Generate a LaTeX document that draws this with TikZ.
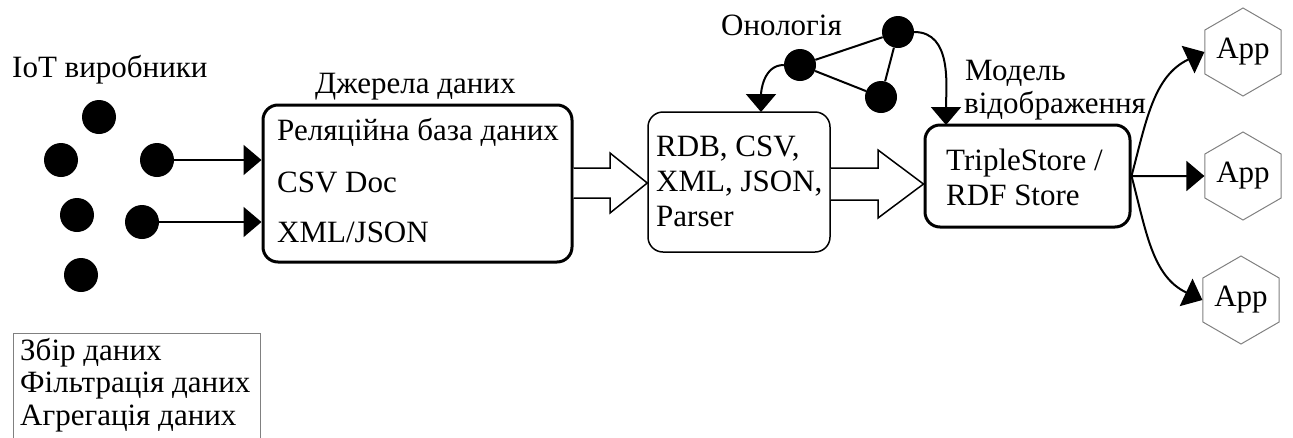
\documentclass[tikz,border=0pt]{standalone}
\usepackage{fontspec}
\setmainfont{Liberation Serif}
\usetikzlibrary{arrows.meta,calc,shapes.geometric}
\begin{document}
\begin{tikzpicture}[x=1pt,y=-1pt,
  font=\fontsize{31}{37}\selectfont,
  dot/.style={circle,fill=black,inner sep=0pt,minimum size=34pt},
  odot/.style={circle,fill=black,inner sep=0pt,minimum size=32pt},
  bigbox/.style={draw,line width=3pt,rounded corners=15pt,inner sep=0pt},
  thinbox/.style={draw,line width=1.5pt,rounded corners=15pt,inner sep=0pt},
  txt/.style={anchor=base west,inner sep=0pt},
  arr/.style={line width=2pt,-{Triangle[length=18pt,width=30pt]}},
  hollow/.style={draw,line width=1.5pt,fill=white,line join=miter},
  app/.style={draw=gray,line width=1pt,regular polygon,regular polygon sides=6,shape border rotate=30,minimum size=88pt,inner sep=0pt},
  gbox/.style={draw=gray,line width=1pt,inner sep=0pt}
]
\useasboundingbox (0,0) rectangle (1293,437);
% IoT producers
\node[txt] (iot) at (12,77) {IoT виробники};
\node[dot] (d1) at (99,117) {};
\node[dot] (d2) at (61,160) {};
\node[dot] (d3) at (157,160) {};
\node[dot] (d4) at (77,215) {};
\node[dot] (d5) at (142,222) {};
\node[dot] (d6) at (81,275) {};
% data sources
\node[bigbox,minimum width=309pt,minimum height=157pt] (src) at (417.5,183.5) {};
\node[txt] (srct) at (315,93) {Джерела даних};
\node[txt] (s1) at (277,140) {Реляційна база даних};
\node[txt] (s2) at (277,192) {CSV Doc};
\node[txt] (s3) at (277,242) {XML/JSON};
\draw[arr] (d3) -- (src.west |- d3);
\draw[arr] (d5) -- (src.west |- d5);
% parser
\node[thinbox,minimum width=182pt,minimum height=140pt] (par) at (739,182) {};
\node[txt] (p1) at (656,156) {RDB, CSV,};
\node[txt] (p2) at (656,191) {XML, JSON,};
\node[txt] (p3) at (656,226) {Parser};
% triple store
\node[bigbox,minimum width=205pt,minimum height=102pt] (ts) at (1027.5,176) {};
\node[txt] (t1) at (946,170) {TripleStore /};
\node[txt] (t2) at (946,205) {RDF Store};
% hollow arrows
\draw[hollow] (src.east |- 0,168) -- (610,168) -- (610,153) -- (par.west |- 0,183) -- (610,213) -- (610,198) -- (src.east |- 0,198);
\draw[hollow] (par.east |- 0,168) -- (878,168) -- (878,150) -- (ts.west |- 0,184) -- (878,218) -- (878,200) -- (par.east |- 0,200);
% ontology
\node[txt] (ontt) at (721,35) {Онологія};
\node[odot] (oa) at (800,65) {};
\node[odot] (ob) at (898,32) {};
\node[odot] (oc) at (881,97) {};
\draw[line width=2pt] (oa) -- (ob) -- (oc) -- (oa);
\coordinate (pin) at (761,112);
\coordinate (tin) at (946,125);
\draw[arr] (oa.west) to[out=180,in=90] (pin);
\draw[arr] (ob.east) to[out=0,in=90] (tin);
\node[txt] (m1) at (965,80) {Модель};
\node[txt] (m2) at (964,113) {відображення};
% apps
\node[app] (a1) at (1243,52) {App};
\node[app] (a2) at (1243,176) {App};
\node[app] (a3) at (1241,300) {App};
\draw[arr] (ts.east) to[out=75,in=205] (a1.west);
\draw[arr] (ts.east) -- (a2.west);
\draw[arr] (ts.east) to[out=-75,in=155] (a3.west);
% bottom-left box
\node[gbox,minimum width=247pt,minimum height=112pt] (gb) at (136.5,389) {};
\node[txt] (g1) at (20,360) {Збір даних};
\node[txt] (g2) at (20,392) {Фільтрація даних};
\node[txt] (g3) at (20,425) {Агрегація даних};
\end{tikzpicture}
\end{document}
